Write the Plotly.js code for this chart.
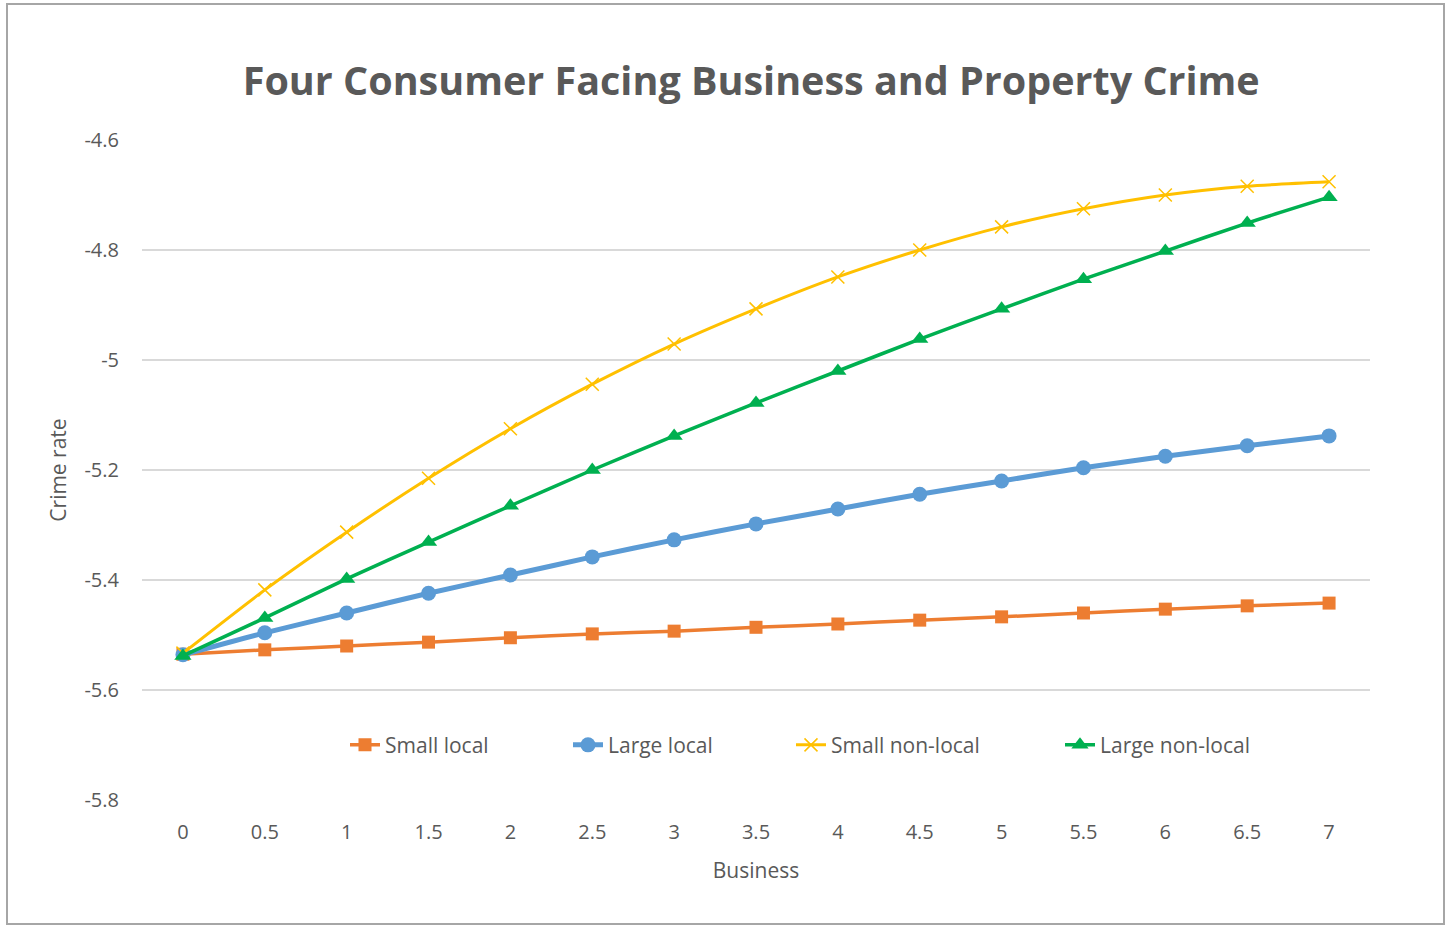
<!DOCTYPE html>
<html>
<head>
<meta charset="utf-8">
<script src="https://cdn.plot.ly/plotly-3.0.1.min.js"></script>
<style>
html,body{margin:0;padding:0;background:#fff;}
#frame{position:absolute;left:6px;top:3px;width:1439px;height:922px;border:2px solid #a6a6a6;box-sizing:border-box;pointer-events:none;}
#chart{position:absolute;left:0;top:0;width:1453px;height:928px;}
</style>
</head>
<body>
<div id="chart"></div>
<div id="frame"></div>
<script>
const business = [0,0.5,1,1.5,2,2.5,3,3.5,4,4.5,5,5.5,6,6.5,7];
const smallLocal = [-5.535,-5.527,-5.520,-5.513,-5.505,-5.498,-5.493,-5.486,-5.480,-5.473,-5.467,-5.460,-5.453,-5.447,-5.442];
const largeLocal = [-5.536,-5.496,-5.460,-5.424,-5.391,-5.358,-5.327,-5.298,-5.271,-5.244,-5.220,-5.196,-5.175,-5.156,-5.138];
const smallNonLocal = [-5.533,-5.418,-5.313,-5.215,-5.125,-5.044,-4.971,-4.907,-4.849,-4.800,-4.758,-4.725,-4.700,-4.684,-4.676];
const largeNonLocal = [-5.538,-5.469,-5.398,-5.331,-5.265,-5.200,-5.138,-5.078,-5.020,-4.962,-4.907,-4.853,-4.802,-4.751,-4.704];
const yTicks = [-5.8,-5.6,-5.4,-5.2,-5,-4.8,-4.6];
const xTicks = [0,0.5,1,1.5,2,2.5,3,3.5,4,4.5,5,5.5,6,6.5,7];

const fontFam = '"Open Sans", Lato, sans-serif';
const traces = [
  {x: business, y: smallLocal, name: 'Small local', mode: 'lines+markers', legend: 'legend',
   line: {color: '#ED7D31', width: 3.5, shape: 'spline', smoothing: 0.6},
   marker: {symbol: 'square', size: 13, color: '#ED7D31'}},
  {x: business, y: largeLocal, name: 'Large local', mode: 'lines+markers', legend: 'legend2',
   line: {color: '#5B9BD5', width: 5, shape: 'spline', smoothing: 0.6},
   marker: {symbol: 'circle', size: 15, color: '#5B9BD5'}},
  {x: business, y: smallNonLocal, name: 'Small non-local', mode: 'lines+markers', legend: 'legend3',
   line: {color: '#FFC000', width: 3, shape: 'spline', smoothing: 0.6},
   marker: {symbol: 'x-thin', size: 13, color: '#FFC000', line: {color: '#FFC000', width: 1.5}}},
  {x: business, y: largeNonLocal, name: 'Large non-local', mode: 'lines+markers', legend: 'legend4',
   line: {color: '#00B050', width: 3.5, shape: 'spline', smoothing: 0.6},
   marker: {symbol: 'triangle-up', size: 15, color: '#00B050'}}
];

function leg(px) {
  return {orientation: 'h', x: (px - 142) / 1228, xanchor: 'left', y: 0.083, yanchor: 'middle',
          font: {size: 21, color: '#595959'}, bgcolor: 'rgba(0,0,0,0)'};
}

const layout = {
  width: 1453, height: 928,
  margin: {l: 142, r: 83, t: 140, b: 128},
  paper_bgcolor: '#fff', plot_bgcolor: '#fff',
  font: {family: fontFam, color: '#595959', size: 18},
  title: {text: '<b>Four Consumer Facing Business and Property Crime</b>',
          font: {family: fontFam, size: 39.5, color: '#595959'},
          x: 0.517, xanchor: 'center', y: 0.912, yanchor: 'middle'},
  xaxis: {range: [-0.25, 7.25], tickvals: xTicks, ticktext: xTicks.map(String),
          showgrid: false, zeroline: false, showline: false, ticks: '',
          ticklabelstandoff: 18,
          tickfont: {size: 20, color: '#595959'},
          title: {text: 'Business', font: {size: 21, color: '#595959'}, standoff: 19}},
  yaxis: {range: [-5.8, -4.6], tickvals: yTicks, ticktext: yTicks.map(String),
          showgrid: true, gridcolor: '#d9d9d9', gridwidth: 1.5, zeroline: false,
          showline: false, ticks: '', ticklabelstandoff: 22,
          tickfont: {size: 20, color: '#595959'},
          title: {text: 'Crime rate', font: {size: 21, color: '#595959'}, standoff: 12}},
  showlegend: true,
  legend: leg(345),
  legend2: leg(568),
  legend3: leg(791),
  legend4: leg(1060)
};

Plotly.newPlot('chart', traces, layout, {displayModeBar: false, staticPlot: true});
</script>
</body>
</html>
